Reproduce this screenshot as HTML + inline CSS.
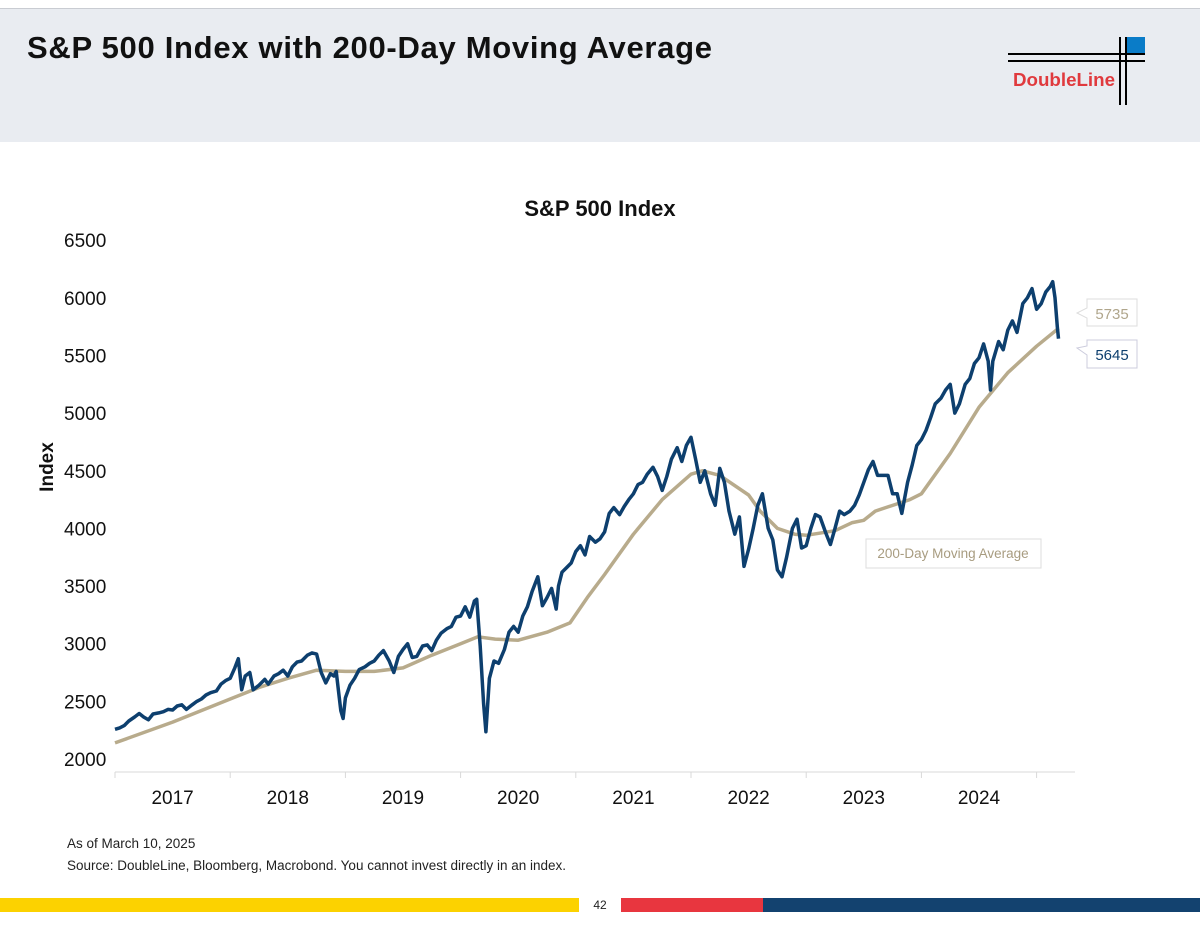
<!DOCTYPE html>
<html><head><meta charset="utf-8"><style>
body{margin:0;width:1200px;height:927px;background:#fff;font-family:"Liberation Sans",sans-serif;position:relative;overflow:hidden}
#hdr{position:absolute;left:0;top:8px;width:1200px;height:133px;background:#e9ecf1;border-top:1px solid #c9ccd2}
#title{position:absolute;left:27px;top:30px;font-size:31px;font-weight:bold;color:#111;letter-spacing:0.7px}
svg{position:absolute;left:0;top:0}
.ft{position:absolute;left:67px;font-size:13.5px;color:#222}
</style></head><body>
<div id="hdr"></div>
<div id="title">S&amp;P 500 Index with 200-Day Moving Average</div>
<svg width="1200" height="927">
 <g>
  <rect x="1127" y="37" width="18" height="17" fill="#0a7cc8"/>
  <line x1="1008" y1="54" x2="1145" y2="54" stroke="#000" stroke-width="2"/>
  <line x1="1008" y1="61" x2="1145" y2="61" stroke="#000" stroke-width="2"/>
  <line x1="1120" y1="37" x2="1120" y2="105" stroke="#000" stroke-width="2"/>
  <line x1="1126" y1="37" x2="1126" y2="105" stroke="#000" stroke-width="2"/>
  <text x="1013" y="86" font-size="18" font-weight="bold" fill="#e03a3e" textLength="102" lengthAdjust="spacingAndGlyphs" font-family="Liberation Sans,sans-serif">DoubleLine</text>
 </g>
 <text x="600" y="216" text-anchor="middle" font-size="22" font-weight="bold" fill="#111">S&amp;P 500 Index</text>
 <text transform="translate(53,467) rotate(-90)" text-anchor="middle" font-size="19" font-weight="bold" fill="#111">Index</text>
 <g id="yt"></g><g id="xt"></g>
 <path id="ma" fill="none" stroke="#b8ab8c" stroke-width="3.5" stroke-linejoin="round"/>
 <path id="px" fill="none" stroke="#0d3f6e" stroke-width="3.5" stroke-linejoin="round"/>
 <g>
  <rect x="866" y="539" width="175" height="29" fill="#fff" stroke="#ddd"/>
  <text x="953" y="558" text-anchor="middle" font-size="13.5" fill="#a89c80">200-Day Moving Average</text>
 </g>
 <g>
  <path d="M1087,299 H1137 V326 H1087 V318 L1077,313 L1087,308 Z" fill="#fff" stroke="#ddd"/>
  <text x="1112" y="319" text-anchor="middle" font-size="15" fill="#b0a68c">5735</text>
 </g>
 <g>
  <path d="M1087,340 H1137 V368 H1087 V355 L1077,348 L1087,346 Z" fill="#fff" stroke="#ccd"/>
  <text x="1112" y="360" text-anchor="middle" font-size="15" fill="#0d3f6e">5645</text>
 </g>
 <g>
  <rect x="0" y="898" width="579" height="14" fill="#fcd200"/>
  <rect x="621" y="898" width="142" height="14" fill="#e8363f"/>
  <rect x="763" y="898" width="437" height="14" fill="#13426f"/>
  <text x="600" y="909" text-anchor="middle" font-size="12" fill="#222">42</text>
 </g>
</svg>
<div class="ft" style="top:836px">As of March 10, 2025</div>
<div class="ft" style="top:858px">Source: DoubleLine, Bloomberg, Macrobond. You cannot invest directly in an index.</div>
<script>
const yTicks=[2000,2500,3000,3500,4000,4500,5000,5500,6000,6500];
const years=[2017,2018,2019,2020,2021,2022,2023,2024];
const pxT=[2017.00,2017.04,2017.08,2017.12,2017.17,2017.21,2017.25,2017.29,2017.33,2017.38,2017.42,2017.46,2017.5,2017.54,2017.58,2017.62,2017.67,2017.71,2017.75,2017.79,2017.83,2017.88,2017.92,2017.96,
2018.00,2018.04,2018.07,2018.1,2018.13,2018.17,2018.2,2018.25,2018.3,2018.33,2018.38,2018.42,2018.46,2018.5,2018.54,2018.58,2018.62,2018.67,2018.71,2018.75,2018.79,2018.83,2018.87,2018.9,2018.92,2018.96,2018.98,
2019.00,2019.04,2019.08,2019.12,2019.17,2019.21,2019.25,2019.29,2019.33,2019.38,2019.42,2019.46,2019.5,2019.54,2019.58,2019.62,2019.67,2019.71,2019.75,2019.79,2019.83,2019.88,2019.92,2019.96,
2020.00,2020.04,2020.08,2020.12,2020.14,2020.17,2020.2,2020.22,2020.25,2020.29,2020.33,2020.38,2020.42,2020.46,2020.5,2020.54,2020.58,2020.62,2020.67,2020.71,2020.75,2020.79,2020.83,2020.85,2020.88,2020.92,2020.96,
2021.00,2021.04,2021.08,2021.12,2021.17,2021.21,2021.25,2021.29,2021.33,2021.38,2021.42,2021.46,2021.5,2021.54,2021.58,2021.62,2021.67,2021.71,2021.75,2021.79,2021.83,2021.88,2021.92,2021.96,
2022.00,2022.04,2022.08,2022.12,2022.17,2022.21,2022.25,2022.29,2022.33,2022.38,2022.42,2022.46,2022.5,2022.54,2022.58,2022.62,2022.67,2022.71,2022.75,2022.79,2022.83,2022.88,2022.92,2022.96,
2023.00,2023.04,2023.08,2023.12,2023.17,2023.21,2023.25,2023.29,2023.33,2023.38,2023.42,2023.46,2023.5,2023.54,2023.58,2023.62,2023.67,2023.71,2023.75,2023.79,2023.83,2023.88,2023.92,2023.96,
2024.00,2024.04,2024.08,2024.12,2024.17,2024.21,2024.25,2024.29,2024.33,2024.38,2024.42,2024.46,2024.5,2024.54,2024.58,2024.6,2024.62,2024.67,2024.71,2024.75,2024.79,2024.83,2024.88,2024.92,2024.96,
2025.00,2025.04,2025.08,2025.12,2025.14,2025.16,2025.18,2025.19];
const pxV=[2258,2270,2290,2330,2364,2395,2363,2340,2390,2400,2410,2430,2425,2460,2470,2430,2470,2500,2520,2555,2575,2590,2650,2680,
2700,2790,2870,2600,2720,2750,2600,2640,2690,2650,2720,2740,2770,2720,2800,2840,2850,2900,2920,2910,2750,2660,2740,2720,2760,2420,2351,
2530,2640,2700,2775,2800,2830,2850,2900,2940,2850,2750,2890,2950,3000,2880,2890,2980,2990,2940,3030,3090,3130,3150,3230,
3240,3320,3230,3370,3386,2980,2480,2237,2700,2850,2830,2950,3100,3150,3100,3240,3320,3450,3580,3330,3400,3480,3300,3500,3620,3660,3700,
3800,3850,3770,3930,3880,3910,3970,4130,4180,4120,4190,4250,4300,4380,4400,4470,4530,4450,4330,4450,4600,4700,4580,4720,
4790,4600,4400,4500,4300,4200,4520,4400,4150,3950,4100,3670,3820,4000,4200,4300,4000,3900,3640,3580,3750,4000,4080,3830,
3850,4000,4120,4100,3960,3860,4000,4150,4120,4150,4200,4290,4400,4510,4580,4460,4460,4460,4300,4300,4130,4400,4550,4720,
4770,4850,4960,5080,5130,5200,5250,5000,5080,5250,5300,5430,5480,5600,5450,5200,5450,5620,5550,5720,5800,5700,5950,6000,6080,
5900,5950,6050,6100,6140,6000,5750,5645];
const maT=[2017.0,2017.5,2018.0,2018.25,2018.5,2018.75,2019.0,2019.25,2019.5,2019.75,2020.0,2020.15,2020.3,2020.5,2020.75,2020.95,2021.1,2021.25,2021.5,2021.75,2022.0,2022.1,2022.25,2022.5,2022.6,2022.75,2022.9,2023.0,2023.25,2023.4,2023.5,2023.6,2023.9,2024.0,2024.25,2024.5,2024.75,2025.0,2025.19];
const maV=[2140,2320,2520,2620,2700,2770,2760,2760,2790,2900,3000,3060,3040,3030,3100,3180,3400,3600,3950,4250,4470,4500,4460,4290,4150,4000,3950,3940,3980,4050,4070,4150,4250,4300,4650,5050,5350,5580,5735];
const X=t=>115+(t-2017)*115.2, Y=v=>759-(v-2000)*0.1153;
const ns="http://www.w3.org/2000/svg";
const yt=document.getElementById('yt'), xt=document.getElementById('xt');
yTicks.forEach(v=>{const t=document.createElementNS(ns,'text');


t.setAttribute('x',64);t.setAttribute('y',Y(v)+7);t.setAttribute('font-size','19');t.setAttribute('fill','#111');t.textContent=v;yt.appendChild(t);});
const ax=document.createElementNS(ns,'line');


ax.setAttribute('x1',115);ax.setAttribute('x2',1075);ax.setAttribute('y1',772);ax.setAttribute('y2',772);ax.setAttribute('stroke','#d9d9d9');xt.appendChild(ax);
for(let i=0;i<=years.length;i++){const l=document.createElementNS(ns,'line');


const x=X(2017+i);l.setAttribute('x1',x);l.setAttribute('x2',x);l.setAttribute('y1',772);l.setAttribute('y2',778);l.setAttribute('stroke','#d9d9d9');xt.appendChild(l);}
years.forEach(y=>{const t=document.createElementNS(ns,'text');


t.setAttribute('x',X(y+0.5));t.setAttribute('y',804);t.setAttribute('text-anchor','middle');t.setAttribute('font-size','19');t.setAttribute('fill','#111');t.textContent=y;xt.appendChild(t);});
const path=(T,V)=>T.map((t,i)=>(i?'L':'M')+X(t).toFixed(1)+','+Y(V[i]).toFixed(1)).join('');
document.getElementById('px').setAttribute('d',path(pxT,pxV));
document.getElementById('ma').setAttribute('d',path(maT,maV));
</script>
</body></html>
